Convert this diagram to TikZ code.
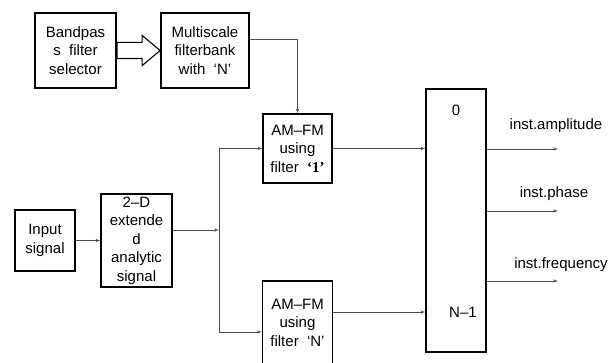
\documentclass[tikz,border=0pt]{standalone}
\usepackage{fontspec}
\setmainfont{Liberation Sans}
\newfontfamily\tnr{Liberation Serif}
\usetikzlibrary{shapes,arrows,positioning}
\definecolor{wiregray}{rgb}{0.3,0.3,0.3}
\tikzstyle{block} = [rectangle, draw, line width=1.1pt, text centered, align=center,
    inner sep=0pt, font=\fontsize{15}{18.5}\selectfont]
\tikzstyle{hollow} = [single arrow, draw, line width=1.1pt, minimum height=43pt,
    single arrow head extend=7pt, single arrow tip angle=80, inner sep=0pt]
\tikzstyle{line} = [draw, wiregray, line width=0.6pt, -latex']
\tikzstyle{lbl} = [inner sep=0pt, font=\fontsize{15}{18}\selectfont]

\begin{document}
\begin{tikzpicture}[x=1pt, y=-1pt]
    \useasboundingbox (0,0) rectangle (614,363);
    % Place nodes
    \node [block, minimum width=81pt, minimum height=75pt] (sel) at (75.5,50.5) {Bandpas\\s\ \ filter\\selector};
    \node [block, minimum width=88pt, minimum height=75pt, right of=sel, node distance=129.5pt] (bank) {Multiscale\\filterbank\\with\ \ ‘N’};
    \node [hollow, right=0pt of sel] (sel2bank) {\rule{0pt}{15pt}};
    \node [block, minimum width=60pt, minimum height=61pt] (in) at (45,240.5) {Input\\signal};
    \node [block, minimum width=71pt, minimum height=93pt, right of=in, node distance=91.5pt] (ext) {2–D\\extende\\d\\analytic\\signal};
    \node [block, minimum width=69pt, minimum height=69pt] (amfm1) at (297.5,148.5) {AM–FM\\using\\filter\ \ {\tnr\bfseries ‘1’}};
    \node [block, minimum width=70pt, minimum height=83pt, below of=amfm1, node distance=174pt] (amfmN) {AM–FM\\using\\filter\ \ ‘N’};
    \node [block, minimum width=60pt, minimum height=263pt] (big) at (456,220.5) {};
    \node [lbl] (zero) at (456,110) {0};
    \node [lbl] (nmone) at (463,312) {N–1};
    \coordinate (split) at (219,230);
    \coordinate (splitN) at (219,332);
    \coordinate (amp) at (558,149);
    \coordinate (pha) at (558,211);
    \coordinate (frq) at (558,281);
    \node [lbl] (ampl) at (556,126) {inst.amplitude};
    \node [lbl] (phal) at (554,194) {inst.phase};
    \node [lbl] (frql) at (561,265) {inst.frequency};
    % Draw edges
    \path [line] ([yshift=11.5pt]bank.east) -| (amfm1.north);
    \path [line] (in) -- (ext);
    \path [line] (ext.east |- split) -- (split);
    \path [line] (split) |- (amfm1.west);
    \path [line] (split) |- (amfmN.west |- splitN);
    \path [line] (amfm1.east) -- (big.west |- amfm1.east);
    \path [line] (amfmN.east |- nmone) -- (big.west |- nmone);
    \path [line] (big.east |- amp) -- (amp);
    \path [line] (big.east |- pha) -- (pha);
    \path [line] (big.east |- frq) -- (frq);
\end{tikzpicture}
\end{document}
